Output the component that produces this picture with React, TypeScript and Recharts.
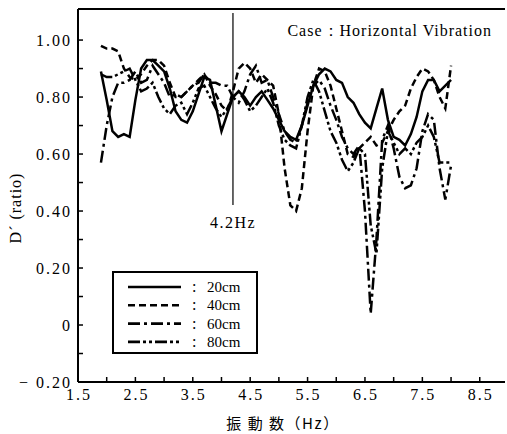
import { LineChart, Line, XAxis, YAxis, ReferenceLine, Legend } from "recharts";

const freqs = [
  1.9, 2.0, 2.1, 2.2, 2.3, 2.4, 2.5, 2.6, 2.7, 2.8, 2.9,
  3.0, 3.1, 3.2, 3.3, 3.4, 3.5, 3.6, 3.7, 3.8, 3.9,
  4.0, 4.1, 4.2, 4.3, 4.4, 4.5, 4.6, 4.7, 4.8, 4.9,
  5.0, 5.1, 5.2, 5.3, 5.4, 5.5, 5.6, 5.7, 5.8, 5.9,
  6.0, 6.1, 6.2, 6.3, 6.4, 6.5, 6.6, 6.7, 6.8, 6.9,
  7.0, 7.1, 7.2, 7.3, 7.4, 7.5, 7.6, 7.7, 7.8, 7.9, 8.0,
];

const d20 = [
  0.89, 0.79, 0.68, 0.66, 0.67, 0.66, 0.79, 0.90, 0.93, 0.93, 0.91,
  0.89, 0.83, 0.75, 0.72, 0.71, 0.75, 0.81, 0.87, 0.86, 0.77,
  0.68, 0.74, 0.80, 0.82, 0.80, 0.77, 0.80, 0.82, 0.79, 0.76,
  0.72, 0.68, 0.66, 0.65, 0.70, 0.77, 0.84, 0.88, 0.90, 0.89,
  0.86, 0.85, 0.80, 0.78, 0.74, 0.71, 0.69, 0.76, 0.83, 0.72,
  0.66, 0.65, 0.63, 0.67, 0.73, 0.82, 0.86, 0.86, 0.82, 0.84, 0.86,
];

const d40 = [
  0.98, 0.97, 0.97, 0.96, 0.90, 0.87, 0.86, 0.88, 0.91, 0.93, 0.93,
  0.91, 0.85, 0.80, 0.80, 0.82, 0.84, 0.86, 0.88, 0.84, 0.81,
  0.77, 0.75, 0.82, 0.90, 0.92, 0.90, 0.85, 0.88, 0.86, 0.84,
  0.74, 0.55, 0.42, 0.40, 0.48, 0.68, 0.84, 0.90, 0.89, 0.84,
  0.76, 0.68, 0.60, 0.59, 0.62, 0.64, 0.66, 0.63, 0.64, 0.68,
  0.72, 0.75, 0.77, 0.83, 0.87, 0.90, 0.89, 0.86, 0.80, 0.76, 0.91,
];

const d60 = [
  0.57, 0.70, 0.80, 0.85, 0.85, 0.86, 0.89, 0.85, 0.86, 0.91, 0.88,
  0.85, 0.80, 0.81, 0.80, 0.82, 0.84, 0.85, 0.88, 0.85, 0.85,
  0.84, 0.84, 0.80, 0.78, 0.82, 0.88, 0.91, 0.85, 0.86, 0.80,
  0.74, 0.68, 0.65, 0.64, 0.70, 0.78, 0.84, 0.86, 0.83, 0.77,
  0.72, 0.66, 0.62, 0.60, 0.63, 0.40, 0.04, 0.30, 0.65, 0.70,
  0.62, 0.52, 0.48, 0.49, 0.55, 0.68, 0.74, 0.72, 0.55, 0.44, 0.56,
];

const d80 = [
  0.88, 0.87, 0.87, 0.88, 0.89, 0.90, 0.86, 0.82, 0.83, 0.85, 0.80,
  0.76, 0.74, 0.77, 0.78, 0.74, 0.78, 0.83, 0.84, 0.80, 0.76,
  0.73, 0.76, 0.80, 0.82, 0.79, 0.75, 0.77, 0.80, 0.83, 0.78,
  0.70, 0.65, 0.63, 0.62, 0.70, 0.80, 0.86, 0.82, 0.75, 0.68,
  0.64, 0.58, 0.54, 0.57, 0.62, 0.60, 0.35, 0.25, 0.55, 0.68,
  0.64, 0.60, 0.62, 0.60, 0.64, 0.66, 0.70, 0.66, 0.57, 0.57, 0.57,
];

const xTicks = [1.5, 2.0, 2.5, 3.0, 3.5, 4.0, 4.5, 5.0, 5.5, 6.0, 6.5, 7.0, 7.5, 8.0, 8.5];
const xLabelTicks = [1.5, 2.5, 3.5, 4.5, 5.5, 6.5, 7.5, 8.5];
const xLabelText = ["1.5", "2.5", "3.5", "4.5", "5.5", "6.5", "7.5", "8.5"];

const yTicks = [-0.2, -0.1, 0, 0.1, 0.2, 0.3, 0.4, 0.5, 0.6, 0.7, 0.8, 0.9, 1.0];
const yLabelTicks = [-0.2, 0, 0.2, 0.4, 0.6, 0.8, 1.0];
const yLabelText = ["\u2212 0.20", "0", "0.20", "0.40", "0.60", "0.80", "1.00"];

const markFreq = 4.2;

const data = freqs.map((f, i) => ({ f, s20: d20[i], s40: d40[i], s60: d60[i], s80: d80[i] }));

const series = [
  { key: "s20", name: "20cm", dash: undefined },
  { key: "s40", name: "40cm", dash: "7 4" },
  { key: "s60", name: "60cm", dash: "12 4 3 4" },
  { key: "s80", name: "80cm", dash: "12 3 3 3 3 3" },
];

const serif = { fontFamily: "Liberation Serif, DejaVu Serif, serif" };
const cjk = { fontFamily: "Noto Sans CJK JP, sans-serif" };
const Y_TOP = 1.109;

function XTick({ x, y, payload }: any) {
  const idx = xLabelTicks.findIndex((t) => Math.abs(t - payload.value) < 1e-6);
  return (
    <g>
      <line x1={x} x2={x} y1={y} y2={y - 5} stroke="#000" strokeWidth={1.5} />
      {idx >= 0 && (
        <text x={x + 1} y={y + 18} textAnchor="middle" style={serif} fontSize={16} letterSpacing={2} fill="#000">
          {xLabelText[idx]}
        </text>
      )}
    </g>
  );
}

function YTick({ x, y, payload }: any) {
  const idx = yLabelTicks.findIndex((t) => Math.abs(t - payload.value) < 1e-6);
  return (
    <g>
      <line x1={x} x2={x + 5} y1={y} y2={y} stroke="#000" strokeWidth={1.5} />
      {idx >= 0 && (
        <text x={x - 6} y={y + 6} textAnchor="end" style={serif} fontSize={16} letterSpacing={2} fill="#000">
          {yLabelText[idx]}
        </text>
      )}
    </g>
  );
}

function LegendBox() {
  return (
    <div style={{ width: 146, height: 83, border: "2px solid #000", boxSizing: "border-box", background: "#fff" }}>
      <svg width={142} height={79} style={{ display: "block" }}>
        {series.map((s, i) => {
          const y = 14 + i * 18.3;
          return (
            <g key={s.key}>
              <line x1={14} x2={67} y1={y} y2={y} stroke="#000" strokeWidth={2.6} strokeDasharray={s.dash} />
              <text x={78} y={y + 5} style={serif} fontSize={16} fill="#000">:</text>
              <text x={93} y={y + 5} style={serif} fontSize={15} fill="#000">{s.name}</text>
            </g>
          );
        })}
      </svg>
    </div>
  );
}

export default function App() {
  return (
    <div style={{ position: "absolute", left: 0, top: 0, background: "#fff" }}>
      <LineChart width={507} height={434} data={data} margin={{ top: 9, right: 2, left: 8, bottom: 22 }}>
        <XAxis
          type="number"
          dataKey="f"
          domain={[1.5, 8.94]}
          allowDataOverflow
          ticks={xTicks}
          interval={0}
          tickSize={0}
          tickMargin={0}
          tickLine={false}
          tick={<XTick />}
          height={30}
          axisLine={{ stroke: "#000", strokeWidth: 2 }}
          label={{
            content: () => (
              <text x={283} y={429} textAnchor="middle" style={cjk} fontSize={15} letterSpacing={1.5} fill="#000">
                振 動 数（Hz）
              </text>
            ),
          }}
        />
        <YAxis
          type="number"
          domain={[-0.2, Y_TOP]}
          allowDataOverflow
          ticks={yTicks}
          interval={0}
          tickSize={0}
          tickMargin={0}
          tickLine={false}
          tick={<YTick />}
          width={70}
          axisLine={{ stroke: "#000", strokeWidth: 2 }}
          label={{
            content: () => (
              <text x={21} y={208} transform="rotate(-90 21 208)" textAnchor="middle" style={serif} fontSize={16} letterSpacing={1} fill="#000">
                D´ (ratio)
              </text>
            ),
          }}
        />
        <ReferenceLine
          y={Y_TOP}
          stroke="#000"
          strokeWidth={2}
          label={{
            content: ({ viewBox }: any) => (
              <text x={(viewBox?.x ?? 78) + (viewBox?.width ?? 427) - 13} y={(viewBox?.y ?? 9) + 27} textAnchor="end" style={serif} fontSize={16} letterSpacing={1} fill="#000">
                Case：Horizontal Vibration
              </text>
            ),
          }}
        />
        <ReferenceLine
          segment={[{ x: markFreq, y: 1.095 }, { x: markFreq, y: 0.421 }]}
          stroke="#000"
          strokeWidth={1.2}
          label={{
            content: ({ viewBox }: any) => (
              <text x={viewBox?.x ?? 233} y={(viewBox?.y ?? 13) + (viewBox?.height ?? 192) + 23} textAnchor="middle" style={serif} fontSize={16} letterSpacing={1.5} fill="#000">
                4.2Hz
              </text>
            ),
          }}
        />
        {series.map((s) => (
          <Line
            key={s.key}
            type="linear"
            dataKey={s.key}
            name={s.name}
            stroke="#000"
            strokeWidth={2.5}
            strokeDasharray={s.dash}
            dot={false}
            isAnimationActive={false}
          />
        ))}
        <Legend
          layout="horizontal"
          verticalAlign="middle"
          align="center"
          content={() => <LegendBox />}
          wrapperStyle={{ left: 112, top: 271, width: 146, height: 83 }}
        />
      </LineChart>
    </div>
  );
}
